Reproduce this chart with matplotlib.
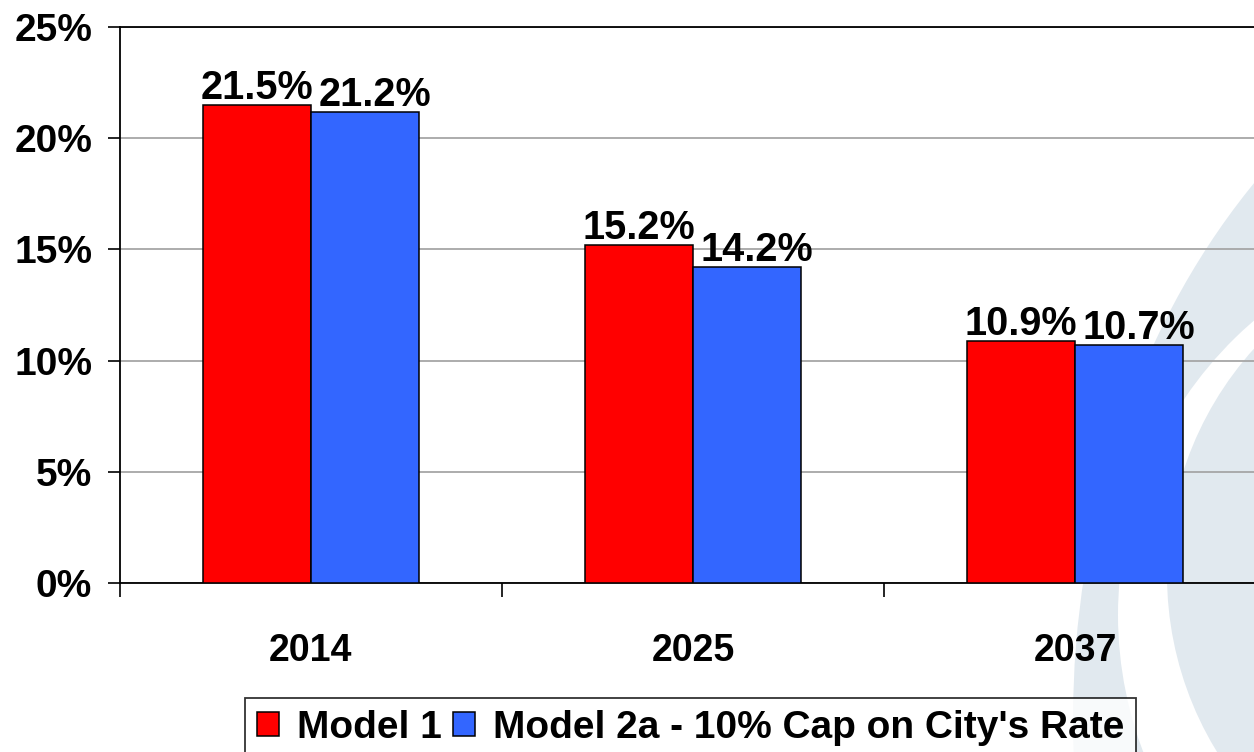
import numpy as np
import matplotlib
matplotlib.use("Agg")
import matplotlib.pyplot as plt
from matplotlib.patches import Ellipse, Patch

# ---- data ----
categories = ["2014", "2025", "2037"]
model1 = [21.5, 15.2, 10.9]
model2a = [21.2, 14.2, 10.7]
series_names = ["Model 1", "Model 2a - 10% Cap on City's Rate"]
y_ticks = [0, 5, 10, 15, 20, 25]
y_tick_labels = ["0%", "5%", "10%", "15%", "20%", "25%"]

plt.rcParams['font.family'] = ['Liberation Sans', 'DejaVu Sans']
plt.rcParams['font.weight'] = 'bold'

W, H = 1254, 752
fig = plt.figure(figsize=(W / 100, H / 100), dpi=100)
fig.patch.set_facecolor('white')

def fx(px):
    return px / W

def fy(py):
    return 1 - py / H

# decorative background swoosh
bg = '#e1e9ef'
for (cx, cy, a, b, col) in [(1673, 720, 600, 750, bg),
                            (1518, 615, 400, 392, 'white'),
                            (1505, 575, 338, 338, bg)]:
    e = Ellipse((fx(cx), fy(cy)), 2 * a / W, 2 * b / H, transform=fig.transFigure,
                facecolor=col, edgecolor='none', zorder=-10)
    fig.add_artist(e)

ax = fig.add_axes([120 / W, 1 - 583 / H, 1146 / W, 556 / H])
ax.set_zorder(1)
ax.patch.set_alpha(0)

centers = np.arange(len(categories)) + 0.5
w = 0.284
red = '#ff0000'
blue = '#3366ff'
b1 = ax.bar(centers - w / 2, model1, w, color=red, edgecolor='black', linewidth=1.1, zorder=3)
b2 = ax.bar(centers + w / 2, model2a, w, color=blue, edgecolor='black', linewidth=1.1, zorder=3)

for rect, v in zip(b1, model1):
    ax.annotate(f"{v:.1f}%", (rect.get_x() + rect.get_width() / 2, v),
                xytext=(0, 6), textcoords='offset pixels', ha='center', va='baseline',
                fontsize=28.5, fontweight='bold', zorder=4)
for rect, v in zip(b2, model2a):
    ax.annotate(f"{v:.1f}%", (rect.get_x() + rect.get_width() / 2, v),
                xytext=(10, 6), textcoords='offset pixels', ha='center', va='baseline',
                fontsize=28.5, fontweight='bold', zorder=4)

ax.set_xlim(0, 3)
ax.set_ylim(0, 25)
ax.set_yticks(y_ticks)
ax.set_yticklabels(y_tick_labels)
ax.yaxis.grid(True, color='#a6a6a6', linewidth=1.3)
ax.set_axisbelow(True)

ax.set_xticks([0, 1, 2, 3])
ax.set_xticklabels([])
ax.set_xticks(centers, minor=True)
ax.set_xticklabels(categories, minor=True)
ax.tick_params(axis='x', which='major', direction='out', length=10, width=1.2)
ax.tick_params(axis='x', which='minor', length=0, pad=36, labelsize=27)
ax.tick_params(axis='y', direction='out', length=9, width=1.2, labelsize=28, pad=11)

for s in ['left', 'bottom', 'top']:
    ax.spines[s].set_color('black')
    ax.spines[s].set_linewidth(1.3)
ax.spines['right'].set_visible(False)

handles = [Patch(facecolor=red, edgecolor='black', linewidth=1.1),
           Patch(facecolor=blue, edgecolor='black', linewidth=1.1)]
leg = fig.legend(handles, series_names, loc='upper left',
                 bbox_to_anchor=(fx(245), fy(698)), bbox_transform=fig.transFigure,
                 ncol=2, frameon=True, fancybox=False, edgecolor='black',
                 prop={'size': 28, 'weight': 'bold'}, borderaxespad=0,
                 handlelength=0.57, handleheight=0.57, handletextpad=0.46,
                 columnspacing=0.3, borderpad=0.3)
leg.get_frame().set_linewidth(1.3)
leg.get_frame().set_facecolor('white')

fig.savefig('out.png', dpi=100)
